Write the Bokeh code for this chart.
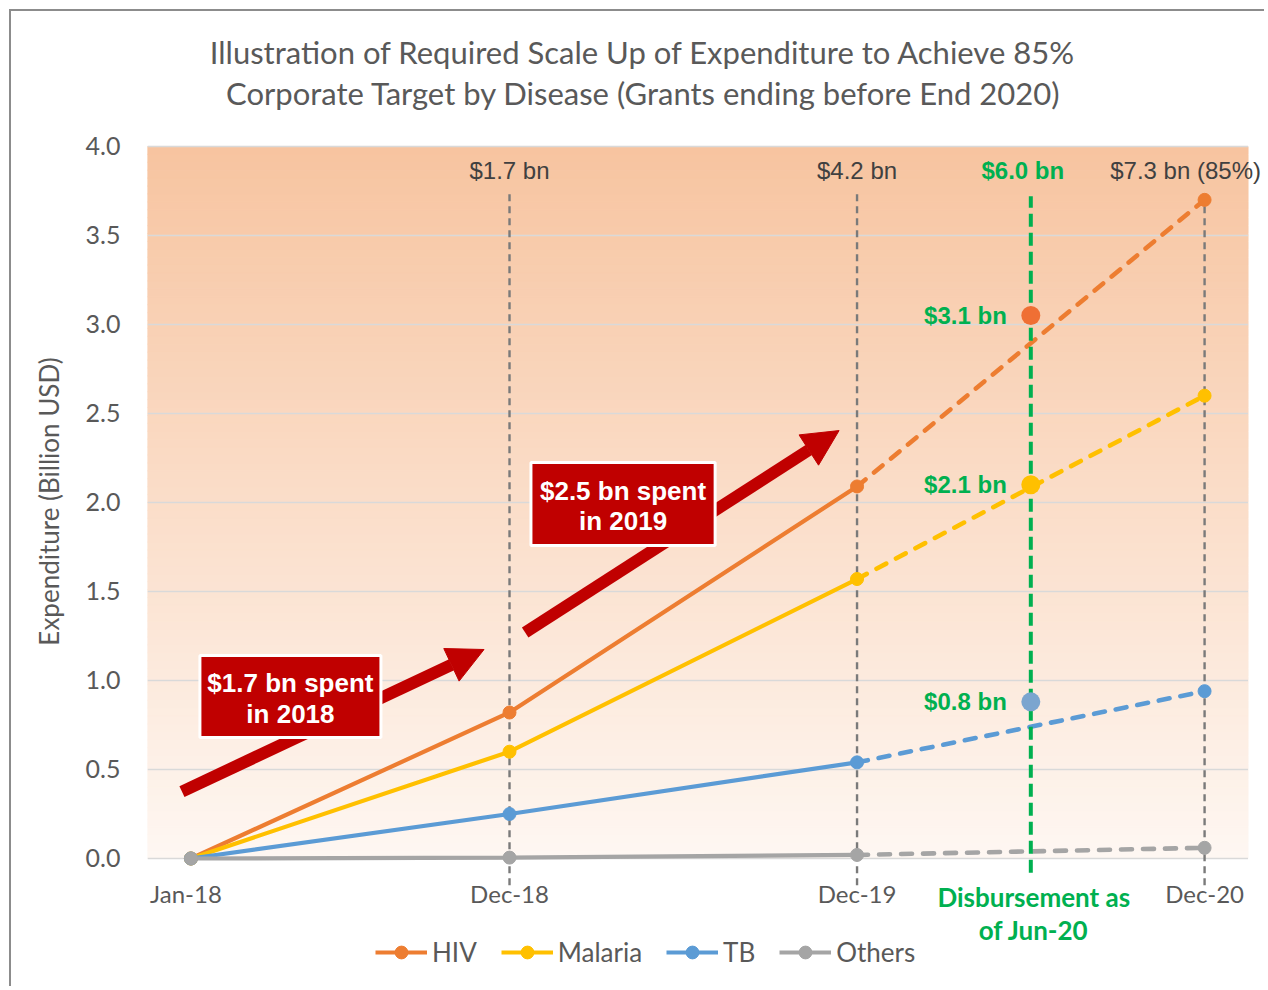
import numpy as np
from bokeh.plotting import figure
from bokeh.models import (Range1d, FixedTicker, NumeralTickFormatter, Label, Arrow,
                          NormalHead, BoxAnnotation, Legend, LegendItem)
from bokeh.core.properties import value
from bokeh.embed import file_html
from bokeh.resources import INLINE

# ---------------- data ----------------
categories = ["Jan-18", "Dec-18", "Dec-19", "Dec-20"]
cat_months = [0, 11, 23, 35]            # months since Jan-18
hiv = [0.0, 0.82, 2.09, 3.70]
malaria = [0.0, 0.60, 1.57, 2.60]
tb = [0.0, 0.25, 0.54, 0.94]
others = [0.0, 0.005, 0.02, 0.06]
series_names = ["HIV", "Malaria", "TB", "Others"]

actual_month = 29                      # Jun-20
actual_vals = [3.05, 2.10, 0.88]        # HIV, Malaria, TB disbursed as of Jun-20
actual_texts = ["$3.1 bn", "$2.1 bn", "$0.8 bn"]
actual_lines = ["Disbursement as", "of Jun-20"]

cum_months = [11, 23, 35]
cum_texts = ["$1.7 bn", "$4.2 bn", "$7.3 bn (85%)"]
actual_total_text = "$6.0 bn"

spend_2018 = ["$1.7 bn spent", "in 2018"]
spend_2019 = ["$2.5 bn spent", "in 2019"]

y_ticks = [0.0, 0.5, 1.0, 1.5, 2.0, 2.5, 3.0, 3.5, 4.0]
title_lines = ["Illustration of Required Scale Up of Expenditure to Achieve 85%",
               "Corporate Target by Disease (Grants ending before End 2020)"]
y_title = "Expenditure (Billion USD)"

# ---------------- style ----------------
colors = ["#ED7D31", "#FFC000", "#5B9BD5", "#A5A5A5"]
actual_colors = ["#EF6F34", "#FFC000", "#7BA5CF"]
GREEN = "#00B050"
RED = "#C00000"
TXT = "#595959"
FONT = "Lato"
ARIAL = "Liberation Sans"

X0, X1 = -1.5, 36.5

p = figure(width=1255, height=977,
           x_range=Range1d(X0, 37.0), y_range=Range1d(-0.618, 4.629),
           output_backend="svg", toolbar_location=None,
           min_border_left=136, min_border_right=4, min_border_top=23, min_border_bottom=20,
           background_fill_color="white", border_fill_color="white",
           outline_line_color=None)
p.styles = {"border-top": "2px solid #8C8C8C", "border-left": "2px solid #8C8C8C",
            "margin-left": "9px", "margin-top": "9px"}
p.xaxis.visible = False
p.grid.visible = False

ya = p.yaxis[0]
ya.ticker = FixedTicker(ticks=y_ticks)
ya.formatter = NumeralTickFormatter(format="0.0")
ya.axis_line_color = None
ya.major_tick_line_color = None
ya.minor_tick_line_color = None
ya.major_tick_out = 0
ya.major_tick_in = 0
ya.major_label_standoff = 27
ya.major_label_text_font = FONT
ya.major_label_text_font_size = "25px"
ya.major_label_text_color = TXT
ya.axis_label = y_title
ya.axis_label_standoff = 18
ya.axis_label_text_font = FONT
ya.axis_label_text_font_size = "26px"
ya.axis_label_text_font_style = "normal"
ya.axis_label_text_color = TXT

# gradient background within the plot area
n = 90
ys = np.linspace(0, 4.0, n + 1)
top_c = np.array([247, 196, 160])
bot_c = np.array([254, 247, 242])
cols = []
for i in range(n):
    t = (i + 0.5) / n
    c = bot_c + (top_c - bot_c) * t
    cols.append("#%02x%02x%02x" % tuple(int(round(v)) for v in c))
p.quad(left=X0, right=X1, bottom=ys[:-1], top=ys[1:], fill_color=cols,
       line_color=cols, line_width=1, level="image")

# gridlines
p.segment(x0=X0, x1=X1, y0=y_ticks, y1=y_ticks, line_color="#D9D9D9", line_width=1.6)

# vertical drop lines
p.segment(x0=cat_months[1:], x1=cat_months[1:], y0=-0.15, y1=3.75,
          line_color="#7A7A7A", line_width=2.4, line_dash="7 5")

# series
items = []
for vals, col, name in zip([hiv, malaria, tb, others], colors, series_names):
    r1 = p.line(cat_months[:3], vals[:3], line_color=col, line_width=4.2)
    p.line(cat_months[2:], vals[2:], line_color=col, line_width=4.6,
           line_dash="11 11", line_cap="round")
    r2 = p.scatter(cat_months, vals, size=13, fill_color=col, line_color=col)
    items.append(LegendItem(label=name, renderers=[r1, r2]))

# Jun-20 disbursement line
p.segment(x0=[actual_month], x1=[actual_month], y0=-0.08, y1=3.72,
          line_color=GREEN, line_width=4, line_dash="13 6")
p.scatter([actual_month] * 3, actual_vals, size=19, fill_color=actual_colors, line_color=None)
p.text([actual_month] * 3, actual_vals, text=actual_texts, text_align="right",
       text_baseline="middle", x_offset=-24, text_color=GREEN,
       text_font=value(ARIAL), text_font_style="bold", text_font_size="24px")

# cumulative labels at the top
p.text(cum_months[:2], [3.865] * 2, text=cum_texts[:2], text_align="center",
       text_baseline="middle", text_color="#404040",
       text_font=value(ARIAL), text_font_size="24px")
p.text([cum_months[2]], [3.865], text=[cum_texts[2]], text_align="center",
       text_baseline="middle", x_offset=-19, text_color="#404040",
       text_font=value(ARIAL), text_font_size="24px")
p.text([actual_month], [3.865], text=[actual_total_text], text_align="center",
       text_baseline="middle", x_offset=-8, text_color=GREEN,
       text_font=value(ARIAL), text_font_style="bold", text_font_size="24px")

# x category labels
p.text(cat_months[:1], [-0.197], text=categories[:1], text_align="center",
       text_baseline="middle", x_offset=-5, text_color=TXT, text_font=value(FONT),
       text_font_size="24px")
p.text(cat_months[1:], [-0.197] * 3, text=categories[1:], text_align="center",
       text_baseline="middle", text_color=TXT, text_font=value(FONT),
       text_font_size="24px")
p.text([actual_month] * 2, [-0.219, -0.399], text=actual_lines, text_align="center",
       text_baseline="middle", x_offset=3, text_color=GREEN, text_font=value(FONT),
       text_font_style="bold", text_font_size="26px")

# chart title (inside the upper, unshaded part of the frame)
p.text([15.61, 15.63], [4.528, 4.298], text=title_lines, text_align="center",
       text_baseline="middle", text_color=TXT, text_font=value(FONT),
       text_font_size="31px")

# arrows
for (xs, ys_, xe, ye) in [(-0.31, 0.376, 10.12, 1.174), (11.54, 1.270, 22.38, 2.404)]:
    p.add_layout(Arrow(x_start=xs, y_start=ys_, x_end=xe, y_end=ye,
                       line_color=RED, line_width=12,
                       end=NormalHead(size=36, fill_color=RED, line_color=RED, line_width=1)))

# spending boxes
for (l, r, b, t, lines) in [(0.31, 6.56, 0.680, 1.140, spend_2018),
                             (11.74, 18.10, 1.758, 2.225, spend_2019)]:
    p.add_layout(BoxAnnotation(left=l, right=r, bottom=b, top=t, fill_color=RED,
                               fill_alpha=1, line_color="white", line_alpha=1, line_width=3))
    cx = (l + r) / 2
    h = t - b
    for k, txt in enumerate(lines):
        yy = t - h * (0.34 + 0.37 * k)
        p.add_layout(Label(x=cx, y=yy, text=txt, text_align="center", text_baseline="middle",
                           text_color="white", text_font=ARIAL, text_font_style="bold",
                           text_font_size="26px"))

legend = Legend(items=items, orientation="horizontal", location=(228, 0),
                label_text_font=FONT, label_text_font_size="26px", label_text_color=TXT,
                glyph_width=52, glyph_height=32, label_height=32, label_standoff=5,
                spacing=24, padding=0, margin=0, border_line_color=None,
                background_fill_alpha=0)
p.add_layout(legend, "center")

open("out.html", "w").write(file_html(p, INLINE))
